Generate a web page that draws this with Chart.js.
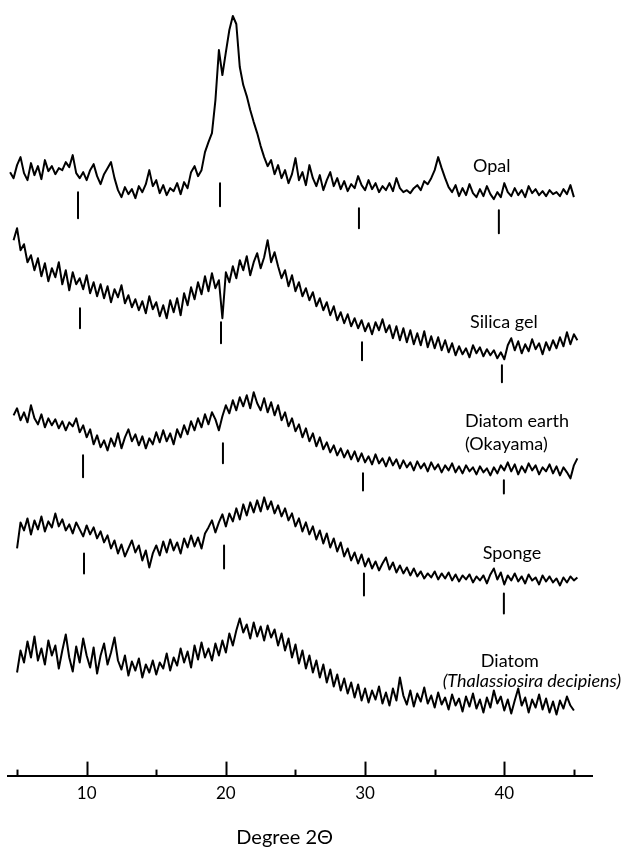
<!DOCTYPE html>
<html>
<head>
<meta charset="utf-8">
<script src="https://cdn.jsdelivr.net/npm/chart.js@4.4.1/dist/chart.umd.min.js"></script>
<style>
  html, body { margin: 0; padding: 0; background: #fff; }
  #wrap { width: 629px; height: 850px; position: relative; }
</style>
</head>
<body>
<div id="wrap"><canvas id="c" width="629" height="850"></canvas></div>
<script>
// ---- categories: diffraction angle grid (degree 2-theta) ----
const angleStart = 4.5;
const angleStep = 0.25;
const angleCount = 164;
const angles = Array.from({ length: angleCount }, (_, i) => angleStart + i * angleStep);

// ---- series values (relative intensity) ----
const opal = [23,17,30,38,22,15,32,20,29,16,35,24,29,21,27,25,33,28,40,22,
  17,23,15,25,31,19,11,21,27,33,17,
  5,-2,8,1,6,-3,9,3,
  11,25,9,15,2,10,0,7,
  4,12,1,13,7,23,29,19,
  25,43,53,62,95,145,120,143,165,179,171,128,110,99,85,73,62,49,38,29,35,21,
  30,17,25,12,21,37,15,23,10,30,17,9,20,5,15,23,9,17,6,14,4,11,7,19,10,5,
  15,6,12,3,9,5,12,4,17,7,3,5,2,7,10,5,14,11,
  17,25,38,27,17,8,
  3,10,-1,7,0,11,2,-2,6,-1,9,1,-4,3,-2,12,3,-1,7,0,5,-2,9,2,6,0,4,-1,5,1,3,-1,6,1,10,-2,
  null];

const silicaGel = [null,
  120,132,110,116,98,105,90,102,84,97,79,92,83,98,76,90,70,88,76,
  82,71,85,67,78,64,76,62,74,58,71,63,75,57,65,53,61,50,59,47,
  64,51,58,44,55,42,60,48,62,45,67,55,73,61,78,66,84,69,87,72,
  80,42,88,78,94,82,100,90,104,85,98,107,92,103,120,98,108,94,82,90,
  74,85,69,78,64,72,60,68,54,62,50,58,45,54,40,48,37,46,34,42,
  32,40,29,37,26,38,30,41,28,35,22,34,20,32,18,30,16,27,15,29,
  13,24,12,23,10,20,8,17,5,14,6,12,3,15,7,13,4,11,5,10,
  2,8,1,15,22,10,19,7,16,9,21,11,17,6,18,10,20,12,23,14,
  28,16,26,20];

const diatomEarth = [null,
  65,72,60,68,58,75,62,56,66,53,62,55,61,52,59,50,58,54,62,
  48,55,43,51,36,45,33,40,30,42,34,47,32,43,51,39,46,35,44,32,
  42,36,48,38,50,39,47,36,51,43,55,46,59,50,62,53,66,56,68,61,
  50,64,75,67,80,70,83,74,85,72,88,77,70,82,68,78,65,75,60,68,
  54,62,49,56,43,52,39,47,34,43,31,38,28,35,25,32,23,30,21,29,
  19,27,18,24,16,26,17,22,14,23,15,21,12,20,13,18,10,19,12,17,
  9,18,11,16,8,15,10,17,8,14,7,15,9,13,6,14,8,12,5,13,
  7,15,10,18,9,16,6,14,8,17,10,15,6,13,9,16,7,14,5,13,
  8,2,15,22];

const sponge = [null, null,
  42,68,60,72,56,70,61,74,59,69,63,77,64,71,60,66,57,68,61,54,
  65,56,63,52,59,48,55,42,50,37,46,34,42,50,38,45,30,40,23,37,
  45,35,49,38,51,40,48,37,52,43,55,44,53,42,57,63,70,58,68,76,
  64,77,69,82,71,86,75,88,78,90,79,93,81,89,77,85,74,82,70,77,
  64,72,59,68,56,64,51,60,47,57,43,52,39,48,34,42,30,38,27,36,
  24,32,22,29,20,27,33,21,28,18,25,17,23,15,22,14,19,12,17,13,
  19,11,17,12,18,10,16,9,15,11,16,8,14,10,15,7,16,22,11,18,
  6,15,10,17,9,14,7,16,10,13,6,15,9,14,8,12,5,13,8,14,
  10,13];

const diatom = [null, null,
  48,70,58,79,63,84,60,72,56,80,65,75,52,70,86,63,49,74,58,82,
  65,53,73,47,65,77,56,68,83,60,51,65,45,59,50,62,43,56,48,60,
  46,58,52,67,50,63,55,72,58,69,53,75,61,78,63,72,60,77,65,80,
  68,87,75,90,102,88,96,82,98,84,94,80,95,83,91,75,87,70,82,63,
  76,57,70,52,65,48,60,43,56,38,51,34,46,30,42,27,38,23,36,20,
  32,18,30,21,34,17,28,15,32,20,43,25,16,30,14,27,19,33,17,25,
  13,28,16,23,11,26,15,22,9,24,14,27,12,21,8,23,13,30,17,24,
  10,21,7,20,32,15,23,8,21,13,26,11,22,8,19,6,20,12,24,15,
  10,
  null];

// stacking offset of each trace (chart units)
const traceNames = ['Opal', 'Silica gel', 'Diatom earth', 'Sponge', 'Diatom'];
const traceOffsets = [580, 415, 295, 185, 55];

// reference markers (the short bars under the traces at 10, 20, 30, 40 degrees)
const markerAngles = {
  opal:        [9.38, 19.58, 29.56, 39.61],
  silicaGel:   [9.52, 19.65, 29.78, 39.83],
  diatomEarth: [9.74, 19.79, 29.85, 39.97],
  sponge:      [9.81, 19.87, 29.92, 39.97]
};
const markerTop = {
  opal: [3, 12, -13, -15], silicaGel: [52, 38, 18, -5],
  diatomEarth: [25, 37, 7, 0], sponge: [37, 45, 17, -3]
};
const markerBottom = {
  opal: [-23, -11, -33, -38], silicaGel: [32, 17, 0, -22],
  diatomEarth: [3, 17, -10, -13], sponge: [17, 22, -5, -23]
};

// x axis
const xMin = 4.35, xMax = 46.3, xTickStep = 5;

// ---- build datasets ----
const seriesList = [opal, silicaGel, diatomEarth, sponge, diatom];
const markerKeys = ['opal', 'silicaGel', 'diatomEarth', 'sponge', null];

const datasets = [];
seriesList.forEach((vals, t) => {
  datasets.push({
    label: traceNames[t],
    data: angles.map((a, i) => ({ x: a, y: vals[i] === null ? null : vals[i] + traceOffsets[t] })),
    borderColor: '#000',
    borderWidth: 2,
    pointRadius: 0,
    tension: 0,
    spanGaps: false
  });
  const k = markerKeys[t];
  if (k) {
    const pts = [];
    markerAngles[k].forEach((a, j) => {
      pts.push({ x: a, y: markerTop[k][j] + traceOffsets[t] });
      pts.push({ x: a, y: markerBottom[k][j] + traceOffsets[t] });
      pts.push({ x: a, y: null });
    });
    datasets.push({
      label: traceNames[t] + ' markers',
      data: pts,
      borderColor: '#000',
      borderWidth: 2,
      pointRadius: 0,
      spanGaps: false
    });
  }
});

// ---- trace labels (anchored in data units) ----
const traceLabels = [
  { text: 'Opal', x: 39.1, trace: 0, rel: 23, align: 'center', italic: false },
  { text: 'Silica gel', x: 39.97, trace: 1, rel: 32, align: 'center', italic: false },
  { text: 'Diatom earth', x: 37.17, trace: 2, rel: 53, align: 'left', italic: false },
  { text: '(Okayama)', x: 37.17, trace: 2, rel: 30, align: 'left', italic: false },
  { text: 'Sponge', x: 40.55, trace: 3, rel: 31, align: 'center', italic: false },
  { text: 'Diatom', x: 40.4, trace: 4, rel: 54, align: 'center', italic: false },
  { text: '(Thalassiosira decipiens)', x: 41.98, trace: 4, rel: 34, align: 'center', italic: true }
];

const FONT = 'Lato, "Open Sans", sans-serif';

const annotatePlugin = {
  id: 'annotate',
  afterDraw(chart) {
    const { ctx, scales: { x, y }, chartArea } = chart;
    ctx.save();
    // inward tick marks on the 2-theta axis
    ctx.strokeStyle = '#000';
    ctx.lineWidth = 2;
    x.ticks.forEach(t => {
      const px = Math.round(x.getPixelForValue(t.value)) + 0.5;
      const len = (t.value % 10 === 0) ? 14 : 6;
      ctx.beginPath();
      ctx.moveTo(px, chartArea.bottom);
      ctx.lineTo(px, chartArea.bottom - len);
      ctx.stroke();
    });
    // trace names
    ctx.fillStyle = '#000';
    ctx.textBaseline = 'alphabetic';
    traceLabels.forEach(l => {
      ctx.font = (l.italic ? 'italic ' : '') + '18px ' + FONT;
      ctx.textAlign = l.align;
      ctx.fillText(l.text, x.getPixelForValue(l.x), y.getPixelForValue(traceOffsets[l.trace] + l.rel));
    });
    ctx.restore();
  }
};

new Chart(document.getElementById('c'), {
  type: 'line',
  data: { datasets },
  options: {
    responsive: false,
    animation: false,
    devicePixelRatio: 1,
    layout: { padding: { left: 8, right: 37, top: 0, bottom: 0 } },
    plugins: { legend: { display: false }, tooltip: { enabled: false } },
    elements: { line: { borderCapStyle: 'butt', borderJoinStyle: 'round' } },
    scales: {
      x: {
        type: 'linear',
        min: xMin,
        max: xMax,
        grid: { display: true, drawOnChartArea: false, drawTicks: false },
        border: { display: true, color: '#000', width: 2 },
        ticks: {
          stepSize: xTickStep,
          includeBounds: false,
          autoSkip: false,
          maxRotation: 0,
          padding: 8,
          color: '#000',
          font: { family: FONT, size: 17 },
          callback: v => (v % 10 === 0 ? String(v) : '')
        },
        title: {
          display: true,
          text: 'Degree 2\u0398      ',
          color: '#000',
          font: { family: FONT, size: 20 },
          padding: { top: 14, bottom: 0 }
        }
      },
      y: { display: false, min: 0, max: 775 }
    }
  },
  plugins: [annotatePlugin]
});
</script>
</body>
</html>
